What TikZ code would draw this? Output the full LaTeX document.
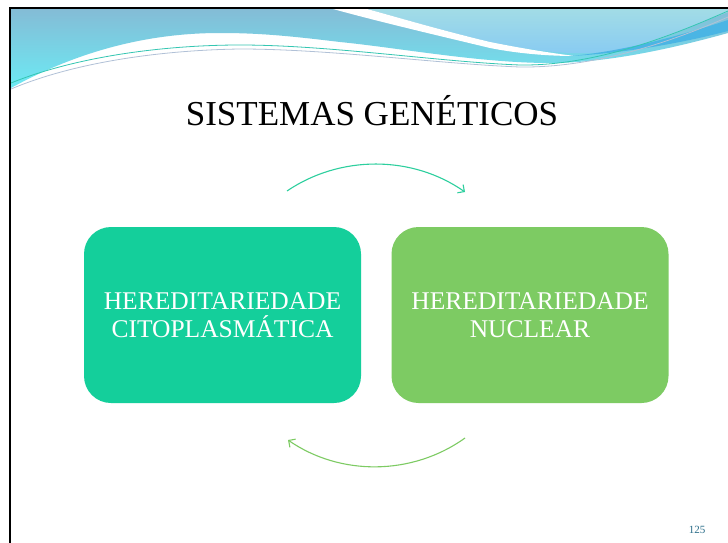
\documentclass[tikz,border=0pt]{standalone}
\usepackage{fontspec}
\setmainfont{Liberation Serif}
\usetikzlibrary{arrows.meta}
\definecolor{boxA}{HTML}{14CF9B}
\definecolor{boxB}{HTML}{7DCB63}
\definecolor{arcA}{HTML}{2DCF9E}
\definecolor{arcB}{HTML}{7DCB63}
\definecolor{hdrTop}{HTML}{84BCD6}
\definecolor{hdrBot}{HTML}{6CEAF4}
\definecolor{skyTop}{HTML}{A2DCE6}
\definecolor{skyBot}{HTML}{88CBF2}
\definecolor{deepBand}{HTML}{4AB5E4}
\definecolor{tealLine}{HTML}{34C6B2}
\definecolor{greyLine}{HTML}{8FA6C6}
\definecolor{pgnum}{HTML}{2C6E8A}
\begin{document}
\begin{tikzpicture}[x=1pt,y=-1pt,
  box/.style={rounded corners=27pt, minimum width=277pt, minimum height=176pt,
    inner sep=0pt, text=white, align=center,
    font=\fontsize{25.5}{28}\selectfont},
  arcline/.style={line width=1.1pt, -{Straight Barb[length=5pt,width=10pt]}},
  thinline/.style={line width=0.8pt}]
\useasboundingbox (0,0) rectangle (728,543);
% slide background
\fill[white] (0,0) rectangle (728,543);
% header main region
\shade[top color=hdrTop, bottom color=hdrBot]
  (11,9) -- (728,9) -- (728,33)
  .. controls (660,52) and (600,63) .. (550,63)
  .. controls (480,63) and (400,48) .. (340,42)
  .. controls (290,36) and (260,33) .. (220,33)
  .. controls (150,33) and (80,50) .. (11,88) -- cycle;
% light blue region upper right
\shade[top color=skyTop, bottom color=skyBot]
  (367,9) -- (728,9) -- (728,12)
  .. controls (680,30) and (640,52) .. (590,53)
  .. controls (560,54) and (530,50) .. (490,42)
  .. controls (440,30) and (400,18) .. (367,9) -- cycle;
% white stripe
\fill[white]
  (333,9) -- (367,9)
  .. controls (400,18) and (440,30) .. (490,42)
  .. controls (520,48) and (550,53) .. (575,56)
  .. controls (540,56) and (510,52) .. (490,48)
  .. controls (440,36) and (380,22) .. (333,9) -- cycle;
% deeper blue band
\fill[deepBand]
  (728,20) .. controls (680,36) and (620,52) .. (570,56)
  .. controls (630,53) and (690,41) .. (728,31) -- cycle;
% thin lines
\draw[thinline, tealLine]
  (11,83) .. controls (80,55) and (170,45) .. (240,45)
  .. controls (330,45) and (440,62) .. (520,65)
  .. controls (600,66) and (680,32) .. (728,11);
\draw[thinline, greyLine!70!white]
  (11,89) .. controls (80,60) and (170,50) .. (240,49)
  .. controls (330,49) and (440,64) .. (520,67)
  .. controls (600,68) and (680,38) .. (728,17);
% frame
\draw[line width=2.4pt, black] (10,543) -- (10,8) -- (728,8);
% title
\node[anchor=base, font=\fontsize{35}{40}\selectfont] (title) at (372,125) {SISTEMAS GENÉTICOS};
% boxes
\node[box, fill=boxA] (cito) at (222.5,315) {HEREDITARIEDADE\\CITOPLASMÁTICA};
\node[box, fill=boxB] (nucl) at (530,315) {HEREDITARIEDADE\\NUCLEAR};
% arc endpoints
\coordinate (topS) at (287,191);
\coordinate (topE) at (465,192);
\coordinate (botS) at (465,438);
\coordinate (botE) at (288,440);
\draw[arcline, arcA] (topS) .. controls (340,155) and (412,155) .. (topE);
\draw[arcline, arcB] (botS) .. controls (412,476) and (340,476) .. (botE);
% page number
\node[anchor=base, text=pgnum, font=\fontsize{11}{13}\selectfont] (pg) at (697,533) {125};
\end{tikzpicture}
\end{document}
